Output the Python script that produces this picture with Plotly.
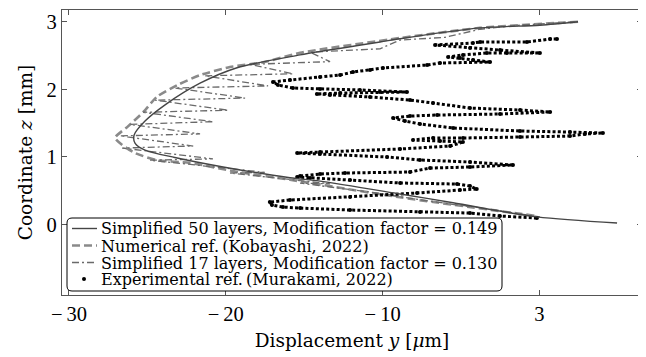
import plotly.graph_objects as go

# ---------------- data ----------------
# Simplified model, 50 layers, modification factor 0.149
sim50_y = [2.47, 0.04, -3.78, -8.88, -10.16, -15.26, -19.28, -21.64, -23.87, -25.15,
           -25.85, -25.78, -25.15, -23.25, -20.17, -15.90, -13.99, -8.88, -5.50, -0.15, 4.96]
sim50_z = [3.00, 2.95, 2.91, 2.75, 2.70, 2.51, 2.32, 2.09, 1.77, 1.53,
           1.32, 1.20, 1.10, 0.99, 0.85, 0.69, 0.64, 0.45, 0.32, 0.11, 0.02]

# Numerical reference (Kobayashi, 2022)
num_y = [2.47, -3.78, -8.88, -15.26, -17.62, -19.73, -21.64, -23.11, -24.39, -25.27,
         -26.29, -27.06, -25.91, -24.39, -22.28, -19.09, -15.90, -8.88, -0.08]
num_z = [3.00, 2.91, 2.76, 2.54, 2.40, 2.33, 2.21, 2.06, 1.89, 1.66,
         1.44, 1.28, 1.07, 0.95, 0.91, 0.77, 0.66, 0.40, 0.12]

# Simplified model, 17 layers, modification factor 0.130 (zig-zag)
sim17_y = [2.26, -1.23, -3.78, -6.01, -8.88, -10.16, -14.62, -13.35, -18.46, -15.71,
           -21.33, -17.30, -23.24, -18.77, -24.51, -19.85, -25.27, -20.82, -26.10, -21.64,
           -26.74, -22.08, -26.61, -20.82, -24.83, -17.51, -19.73, -13.35, -15.26, -8.88,
           -10.16, -4.43, -5.06, 0.04]
sim17_z = [3.00, 2.95, 2.89, 2.77, 2.73, 2.60, 2.55, 2.41, 2.37, 2.23,
           2.20, 2.05, 2.02, 1.87, 1.84, 1.69, 1.66, 1.52, 1.48, 1.34,
           1.31, 1.16, 1.13, 0.97, 0.95, 0.77, 0.76, 0.60, 0.61, 0.42,
           0.45, 0.26, 0.29, 0.11]

# Experimental reference (Murakami, 2022)
exp_y = [-0.15, -2.51, -4.42, -7.61, -12.07, -15.26, -16.35, -17.05,
         -17.19, -15.90, -12.07, -7.80, -5.06, -3.99,
         -4.42, -5.25, -8.88, -12.07, -14.62, -15.45,
         -15.26, -13.99, -12.39, -8.25, -6.97, -4.42, -1.68,
         -4.42, -7.61, -9.71, -13.99, -15.45,
         -13.99, -8.88, -5.69, -4.87,
         -6.33, -8.06,
         -6.78, -4.87, -1.23, 1.96, 2.91, 4.06,
         1.96, -1.23, -5.50, -7.61, -8.57, -9.33,
         -8.25, -6.52, -2.51, 0.69,
         -1.23, -4.42, -6.78, -8.25, -10.80, -13.35, -14.19,
         -12.71, -10.16, -8.44,
         -11.44, -13.99, -15.71, -16.67, -16.99,
         -15.90, -13.99, -12.71, -11.88, -10.80, -9.97, -7.16, -6.33, -3.14,
         -4.23, -5.06, -5.82,
         -4.87, -3.34, -2.06, 0.04,
         -2.51, -4.42, -6.65,
         -4.23, -3.78, -0.79, 0.69, 1.13]
exp_z = [0.093, 0.123, 0.167, 0.182, 0.212, 0.241, 0.256, 0.286,
         0.330, 0.360, 0.404, 0.464, 0.508, 0.523,
         0.567, 0.597, 0.612, 0.656, 0.686, 0.701,
         0.716, 0.745, 0.760, 0.775, 0.834, 0.849, 0.879,
         0.923, 0.953, 0.997, 1.041, 1.056,
         1.071, 1.116, 1.160, 1.219,
         1.234, 1.249,
         1.279, 1.279, 1.293, 1.308, 1.338, 1.353,
         1.367, 1.382, 1.427, 1.486, 1.530, 1.575,
         1.604, 1.619, 1.634, 1.664,
         1.693, 1.723, 1.797, 1.841, 1.886, 1.916, 1.930,
         1.945, 1.960, 1.960,
         1.990, 2.004, 2.019, 2.064, 2.108,
         2.138, 2.182, 2.212, 2.256, 2.286, 2.316, 2.360, 2.390, 2.404,
         2.434, 2.464, 2.479,
         2.508, 2.538, 2.538, 2.538,
         2.582, 2.612, 2.657,
         2.686, 2.701, 2.701, 2.745, 2.745]

x_tickvals = [-30, -20, -10, 0]
x_ticktext = ["\u2212\u200930", "\u2212\u200920", "\u2212\u200910", "3"]
z_tickvals = [0, 1, 2, 3]
z_ticktext = ["0", "1", "2", "3"]

legend_labels = [
    "Simplified 50 layers, Modification factor = 0.149",
    "Numerical ref.\u2009(Kobayashi, 2022)",
    "Simplified 17 layers, Modification factor = 0.130",
    "Experimental ref.\u2009(Murakami, 2022)",
]

# ---------------- styling ----------------
FONT_TXT = "DejaVu Serif, serif"
FONT_NUM = "Liberation Serif, serif"
OFF = 8                      # page body margin of the browser
W, H = 646 - OFF, 357 - OFF
ML, MR, MT, MB = 62 - OFF, 4, 10 - OFF, 62
PW, PH = W - ML - MR, H - MT - MB

C_SOLID = "#454545"
C_DASH = "#8a8a8a"
C_DOT = "#6a6a6a"
DASH_NUM = "8px,4px"
DASH_17 = "7px,3px,2px,3px"
DASH_EXP = "3px,2.2px"

fig = go.Figure()

fig.add_trace(go.Scatter(x=num_y, y=num_z, mode="lines", name=legend_labels[1],
                         line=dict(color=C_DASH, width=2.6, dash=DASH_NUM, shape="spline", smoothing=0.6),
                         showlegend=False))
fig.add_trace(go.Scatter(x=sim17_y, y=sim17_z, mode="lines", name=legend_labels[2],
                         line=dict(color=C_DOT, width=1.3, dash=DASH_17), showlegend=False))
fig.add_trace(go.Scatter(x=exp_y, y=exp_z, mode="lines+markers", name=legend_labels[3],
                         line=dict(color="black", width=3, dash=DASH_EXP),
                         marker=dict(color="black", size=4), showlegend=False))
fig.add_trace(go.Scatter(x=sim50_y, y=sim50_z, mode="lines", name=legend_labels[0],
                         line=dict(color=C_SOLID, width=1.4, shape="spline", smoothing=0.8),
                         showlegend=False))

axis_common = dict(showline=True, linecolor="#555555", linewidth=1.4, mirror="ticks",
                   ticks="inside", ticklen=5, tickcolor="#555555", tickwidth=1,
                   showgrid=False, zeroline=False,
                   tickfont=dict(family=FONT_NUM, size=20.5, color="black"))

fig.update_xaxes(range=[-30.446, 6.55], tickvals=x_tickvals, ticktext=x_ticktext,
                 title=dict(text="Displacement <i>y</i> [<i>\u03bc</i>m]",
                            font=dict(family=FONT_TXT, size=18.5, color="black"), standoff=10),
                 **axis_common)
fig.update_yaxes(range=[-1.047, 3.175], tickvals=z_tickvals, ticktext=z_ticktext,
                 title=dict(text="Coordinate <i>z</i> [mm]",
                            font=dict(family=FONT_TXT, size=18.5, color="black"), standoff=8),
                 **axis_common)

# ---------------- manual legend (screen-pixel helpers) ----------------
def px_x(p):
    return (p - OFF - ML) / PW

def px_y(p):
    return (H - MB - (p - OFF)) / PH

x0, x1, y0, y1, r = 67, 502, 218, 291, 5
rx, ry = r / PW, r / PH
X0, X1, Y0, Y1 = px_x(x0), px_x(x1), px_y(y0), px_y(y1)
path = (f"M {X0+rx},{Y0} L {X1-rx},{Y0} Q {X1},{Y0} {X1},{Y0-ry} "
        f"L {X1},{Y1+ry} Q {X1},{Y1} {X1-rx},{Y1} L {X0+rx},{Y1} "
        f"Q {X0},{Y1} {X0},{Y1+ry} L {X0},{Y0-ry} Q {X0},{Y0} {X0+rx},{Y0} Z")
shapes = [dict(type="path", xref="paper", yref="paper", path=path,
               line=dict(color="black", width=1), fillcolor="white", layer="above")]

rows_py = [228.5, 245.5, 262.5, 279]
sample_styles = [
    dict(color=C_SOLID, width=1.4, dash="solid"),
    dict(color=C_DASH, width=2.6, dash=DASH_NUM),
    dict(color=C_DOT, width=1.3, dash=DASH_17),
]
for py, st in zip(rows_py[:3], sample_styles):
    shapes.append(dict(type="line", xref="paper", yref="paper",
                       x0=px_x(72), x1=px_x(97), y0=px_y(py), y1=px_y(py),
                       line=st, layer="above"))
dr = 2
shapes.append(dict(type="circle", xref="paper", yref="paper",
                   x0=px_x(84 - dr), x1=px_x(84 + dr), y0=px_y(rows_py[3] + dr), y1=px_y(rows_py[3] - dr),
                   fillcolor="black", line=dict(color="black", width=0), layer="above"))

annotations = []
text_py = [229, 246, 263, 279]
for py, lab in zip(text_py, legend_labels):
    annotations.append(dict(xref="paper", yref="paper", x=px_x(99), y=px_y(py),
                            xanchor="left", yanchor="middle", text=lab, showarrow=False,
                            font=dict(family=FONT_TXT, size=16, color="black")))

fig.update_layout(width=W, height=H, margin=dict(l=ML, r=MR, t=MT, b=MB, autoexpand=False),
                  paper_bgcolor="white", plot_bgcolor="white", showlegend=False,
                  shapes=shapes, annotations=annotations,
                  font=dict(family=FONT_TXT, color="black"))

fig.write_html("out.html", config={"displayModeBar": False})
